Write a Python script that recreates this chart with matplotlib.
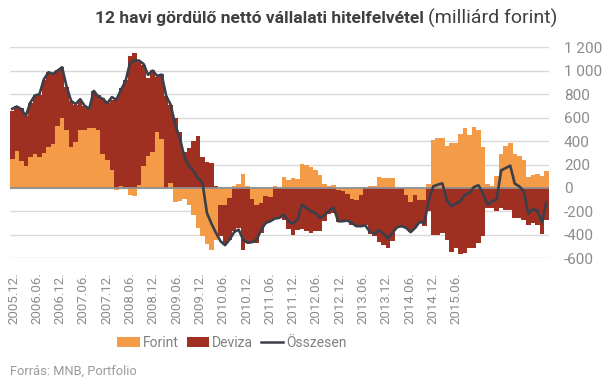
import numpy as np
import matplotlib
matplotlib.use("Agg")
import matplotlib.pyplot as plt
from matplotlib.patches import Patch
from matplotlib.lines import Line2D
from matplotlib.ticker import FuncFormatter

plt.rcParams['font.family'] = ['Roboto', 'DejaVu Sans']

# 12 havi gördülő nettó hitelfelvétel, havi adatok 2005.12-től (milliárd forint)
forint = [250, 318, 233, 190, 267, 289, 261, 301, 352, 377, 530, 599, 496, 352, 394,
          496, 496, 513, 513, 491, 292, 241, 156, -20, 20, 0, -57, -71, 28, 184,
          275, 309, 479, 420, -9, 43, -122, -113, -91, -148, -227, -343, -411, -479, -530,
          -440, -142, -148, -85, 14, 37, 122, 14, -94, -142, -128, -65, -77, 14, 0,
          91, 71, 88, 79, 207, 199, 182, 156, 113, 37, 14, 28, -20, -28, -48,
          -94, -99, -57, 5, 20, 20, 96, 88, 88, 88, -11, 0, -57, -122, -57,
          -99, -105, 30, 406, 426, 426, 360, 383, 383, 460, 511, 454, 519, 491, 349,
          37, 20, 105, 292, 355, 383, 289, 275, 241, 91, 113, 122, 99, 148]

deviza = [408, 377, 448, 426, 456, 500, 533, 621, 635, 601, 477, 436, 364, 391, 315,
          247, 199, 168, 310, 303, 474, 482, 596, 766, 831, 922, 1126, 1149, 1050, 866,
          661, 698, 471, 550, 786, 666, 596, 474, 304, 340, 403, 445, 261, 218, 213,
          14, -270, -334, -355, -369, -340, -525, -468, -374, -326, -255, -233, -207, -255, -255,
          -270, -346, -397, -355, -349, -363, -383, -369, -369, -278, -218, -213, -272, -256, -236,
          -218, -227, -269, -312, -392, -411, -462, -488, -511, -454, -329, -326, -283, -255, -283,
          -199, -221, -200, -403, -403, -383, -448, -548, -516, -567, -553, -511, -516, -468, -411,
          -170, -170, -199, -170, -190, -190, -255, -255, -270, -312, -298, -312, -392, -270]

osszesen = [675, 695, 672, 616, 729, 789, 800, 928, 987, 973, 1001, 1030, 865, 743, 715,
            757, 701, 675, 828, 780, 760, 723, 775, 752, 837, 908, 1064, 1087, 1087, 1058,
            965, 1001, 956, 967, 786, 709, 539, 426, 270, 190, 145, 85, 48, -213, -304,
            -383, -454, -488, -440, -377, -355, -440, -468, -462, -440, -355, -298, -284, -261, -255,
            -227, -284, -304, -270, -142, -170, -199, -213, -255, -233, -190, -170, -284, -284, -278,
            -298, -326, -326, -320, -374, -389, -360, -392, -431, -383, -335, -326, -340, -377, -340,
            -290, -300, -110, 14, 28, 40, -105, -156, -133, -113, -57, -43, 9, 23, -50,
            -142, -113, -99, 150, 170, 190, 37, 14, -28, -218, -184, -190, -292, -122]

tick_labels = ['2005.12.', '2006.06.', '2006.12.', '2007.06.', '2007.12.', '2008.06.',
               '2008.12.', '2009.06.', '2009.12.', '2010.06.', '2010.12.', '2011.06.',
               '2011.12.', '2012.06.', '2012.12.', '2013.06.', '2013.12.', '2014.06.',
               '2014.12.', '2015.06.']

c_forint = '#F49B47'
c_deviza = '#9E2F21'
c_line = '#3B3F4A'
c_text = '#8C8C8C'

forint = np.array(forint)
deviza = np.array(deviza)
x = np.arange(len(forint))

# deviza a forint fölé/alá rakva, ha azonos előjelű
dev_bottom = np.where(np.sign(deviza) == np.sign(forint), forint, 0)

W, H = 607, 382
fig = plt.figure(figsize=(W / 100, H / 100), dpi=100)
ax = fig.add_axes([10 / W, (H - 258.3) / H, (548.7 - 10) / W, (258.3 - 47.3) / H])

ax.bar(x, forint, width=1.02, color=c_forint, linewidth=0, zorder=2)
ax.bar(x, deviza, bottom=dev_bottom, width=1.02, color=c_deviza, linewidth=0, zorder=2)
ax.axhline(0, color='#8F8F8F', lw=1.3, zorder=3)
ax.plot(x, osszesen, color=c_line, lw=1.9, zorder=4, solid_joinstyle='round')

ax.set_xlim(-0.5, len(x) - 0.5)
ax.set_ylim(-600, 1200)
ax.set_yticks(np.arange(-600, 1201, 200))
ax.yaxis.set_major_formatter(FuncFormatter(lambda v, p: f"{int(v):,}".replace(',', ' ')))
ax.yaxis.tick_right()
ax.grid(axis='y', color='#D9D9D9', lw=1.0, zorder=0)
ax.set_axisbelow(True)
for s in ax.spines.values():
    s.set_visible(False)

tick_step = 5.147
ax.set_xticks(0.27 + tick_step * np.arange(len(tick_labels)))
ax.set_xticklabels(tick_labels, rotation=90, va='top', ha='center')
ax.tick_params(axis='x', length=0, pad=10, labelsize=9.5, colors=c_text)
ax.tick_params(axis='y', length=0, pad=11, labelsize=11, colors=c_text)
for lab in ax.get_yticklabels():
    lab.set_horizontalalignment('left')

# cím: félkövér rész + normál rész
t1 = fig.text(95 / W, 1 - 18 / H, '12 havi gördülő nettó vállalati hitelfelvétel',
              fontsize=12.5, fontweight='bold', color='#404040', va='center', ha='left')
fig.canvas.draw()
bb = t1.get_window_extent()
fig.text(bb.x1 / W + 4 / W, 1 - 18 / H, '(milliárd forint)', fontsize=14,
         color='#404040', va='center', ha='left')

handles = [Patch(facecolor=c_forint, edgecolor='none'),
           Patch(facecolor=c_deviza, edgecolor='none'),
           Line2D([], [], color=c_line, lw=1.8)]
leg = fig.legend(handles, ['Forint', 'Deviza', 'Összesen'], ncol=3, frameon=False,
                 loc='center', bbox_to_anchor=(232 / W, 1 - 343 / H), fontsize=10,
                 handlelength=1.6, handleheight=0.75, handletextpad=0.2, columnspacing=0.6)
for t in leg.get_texts():
    t.set_color('#808080')

fig.text(10 / W, 1 - 371 / H, 'Forrás: MNB, Portfolio', fontsize=9.3, color='#9A9A9A',
         va='center', ha='left')

fig.savefig('out.png', dpi=100)
